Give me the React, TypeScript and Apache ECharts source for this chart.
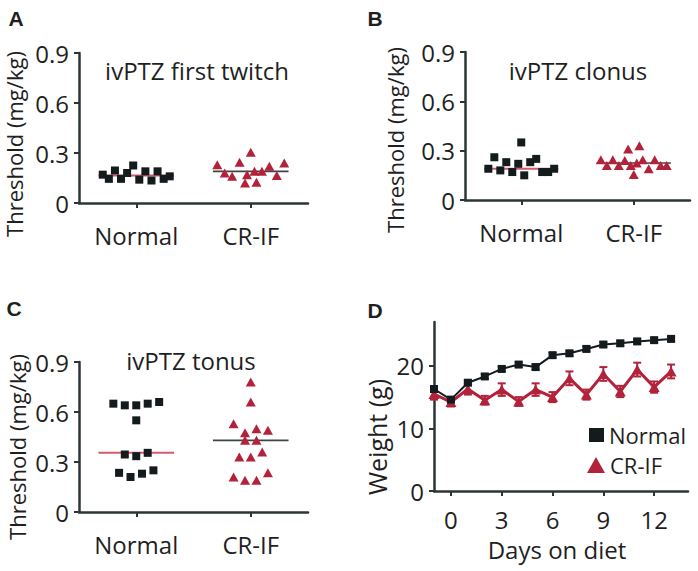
import React, { useEffect, useRef } from "react";
import * as echarts from "echarts";

// ---------- data ----------
const groups = ["Normal", "CR-IF"];
const thresholdTicks = [0, 0.3, 0.6, 0.9];

// Panel A: ivPTZ first twitch (values in left-to-right order)
const firstTwitchNormal = [0.17, 0.145, 0.195, 0.145, 0.18, 0.225, 0.14, 0.19, 0.135, 0.19, 0.145, 0.16];
const firstTwitchCRIF = [0.23, 0.18, 0.16, 0.245, 0.17, 0.305, 0.19, 0.12, 0.19, 0.125, 0.22, 0.165, 0.24];

// Panel B: ivPTZ clonus
const clonusNormal = [0.19, 0.26, 0.18, 0.23, 0.17, 0.22, 0.15, 0.35, 0.23, 0.25, 0.17, 0.17, 0.19];
const clonusCRIF = [0.245, 0.21, 0.245, 0.21, 0.24, 0.21, 0.31, 0.225, 0.155, 0.33, 0.245, 0.19, 0.245, 0.21, 0.21];

// Panel C: ivPTZ tonus
const tonusNormal = [0.65, 0.64, 0.64, 0.65, 0.66, 0.55, 0.345, 0.335, 0.355, 0.235, 0.21, 0.23, 0.25];
const tonusCRIF = [0.21, 0.33, 0.53, 0.475, 0.78, 0.66, 0.5, 0.43, 0.33, 0.19, 0.43, 0.36, 0.19, 0.49, 0.235];

// Panel D: weight over days on diet
const days = [-1, 0, 1, 2, 3, 4, 5, 6, 7, 8, 9, 10, 11, 12, 13];
const weightNormal = [16.3, 14.6, 17.3, 18.3, 19.5, 20.2, 19.8, 21.7, 22.0, 22.7, 23.4, 23.6, 23.9, 24.1, 24.3];
const weightNormalErr = [0.4, 0.4, 0.4, 0.4, 0.4, 0.4, 0.4, 0.4, 0.4, 0.4, 0.4, 0.4, 0.4, 0.4, 0.4];
const weightCRIF = [15.5, 14.2, 16.3, 14.5, 16.2, 14.3, 16.2, 15.0, 18.0, 15.4, 18.7, 15.9, 19.4, 16.6, 19.1];
const weightCRIFErr = [0.9, 0.7, 0.9, 0.7, 1.0, 0.7, 1.0, 0.8, 1.1, 0.8, 1.1, 0.9, 1.1, 0.9, 1.1];
const dayTicks = [0, 3, 6, 9, 12];
const weightTicks = [0, 10, 20];

// ---------- helpers ----------
const BLACK = "#141b1d";
const RED = "#b3223b";
const AXIS = "#2c3636";
const TEXT = "#1f1f1f";
const FONT = "Open Sans";

function median(v: number[]) {
  const s = [...v].sort((a, b) => a - b);
  const n = s.length;
  return n % 2 ? s[(n - 1) / 2] : (s[n / 2 - 1] + s[n / 2]) / 2;
}

// Prism-like column scatter: values with close neighbours share a row and are
// spread horizontally around the group centre.
function spread(values: number[], center: number) {
  const tol = 0.031;
  const maxStep = 0.1;
  const maxWidth = 0.585;
  const idx = values.map((_, i) => i).sort((a, b) => values[a] - values[b]);
  const rows: number[][] = [];
  let cur: number[] = [idx[0]];
  for (let k = 1; k < idx.length; k++) {
    if (values[idx[k]] - values[idx[k - 1]] > tol) {
      rows.push(cur);
      cur = [];
    }
    cur.push(idx[k]);
  }
  rows.push(cur);
  const pts: number[][] = [];
  rows.forEach((row) => {
    row.sort((a, b) => a - b);
    const n = row.length;
    const step = n > 1 ? Math.min(maxStep, maxWidth / (n - 1)) : 0;
    row.forEach((i, j) => pts.push([center + (j - (n - 1) / 2) * step, values[i]]));
  });
  return pts;
}

const axisLineStyle = { show: true, onZero: false, lineStyle: { color: AXIS, width: 2.5 } };
const tickStyle = { show: true, length: 5, lineStyle: { color: AXIS, width: 2 } };
const labelFont = { color: TEXT, fontFamily: FONT, fontSize: 24, lineHeight: 22 };

export default function App() {
  const ref = useRef<HTMLDivElement>(null);

  useEffect(() => {
    if (!ref.current) return;
    const chart = echarts.init(ref.current, null, { renderer: "svg" });

    const grids = [
      { left: 79, top: 53, width: 229, height: 150 },
      { left: 465, top: 52, width: 225, height: 148 },
      { left: 79, top: 362, width: 229, height: 150 },
      { left: 434, top: 322, width: 254, height: 169 },
    ].map((g) => ({ ...g, containLabel: false, outerBoundsMode: "none" }));

    const scatterPanels = [
      [firstTwitchNormal, firstTwitchCRIF],
      [clonusNormal, clonusCRIF],
      [tonusNormal, tonusCRIF],
    ];

    const xAxes: any[] = [0, 1, 2].map((i) => ({
      type: "value",
      gridIndex: i,
      min: -0.5,
      max: 1.5,
      axisLine: axisLineStyle,
      axisTick: { ...tickStyle, customValues: [0, 1] },
      axisLabel: {
        ...labelFont,
        margin: 21,
        customValues: [0, 1],
        formatter: (v: number) => groups[Math.round(v)] ?? "",
      },
      splitLine: { show: false },
    }));
    xAxes.push({
      type: "value",
      gridIndex: 3,
      min: -1,
      max: 14,
      axisLine: axisLineStyle,
      axisTick: { ...tickStyle, customValues: dayTicks },
      axisLabel: { ...labelFont, margin: 17, customValues: dayTicks },
      splitLine: { show: false },
    });

    const yAxes: any[] = [0, 1, 2].map((i) => ({
      type: "value",
      gridIndex: i,
      min: 0,
      max: 0.9,
      interval: 0.3,
      axisLine: axisLineStyle,
      axisTick: { ...tickStyle, customValues: thresholdTicks },
      axisLabel: { ...labelFont, margin: 10, customValues: thresholdTicks },
      splitLine: { show: false },
    }));
    yAxes.push({
      type: "value",
      gridIndex: 3,
      min: 0,
      max: 27,
      axisLine: axisLineStyle,
      axisTick: { ...tickStyle, customValues: weightTicks },
      axisLabel: { ...labelFont, margin: 10, customValues: weightTicks },
      splitLine: { show: false },
    });

    const series: any[] = [];
    scatterPanels.forEach((panel, p) => {
      panel.forEach((vals, g) => {
        const m = median(vals);
        series.push({
          type: "line",
          xAxisIndex: p,
          yAxisIndex: p,
          data: [
            [g - 0.33, m],
            [g + 0.33, m],
          ],
          showSymbol: false,
          symbol: "none",
          silent: true,
          z: 1,
          lineStyle: g === 0 ? { color: "#d65a69", width: 2 } : { color: "#3c4646", width: 1.6 },
        });
        series.push({
          type: "scatter",
          xAxisIndex: p,
          yAxisIndex: p,
          data: spread(vals, g),
          symbol: g === 0 ? "rect" : "triangle",
          symbolSize: g === 0 ? 8 : [10, 9],
          itemStyle: { color: g === 0 ? BLACK : RED, opacity: 1 },
          silent: true,
          z: 3,
        });
      });
    });

    const errSeries = (vals: number[], errs: number[], color: string, lw: number) => ({
      type: "custom",
      xAxisIndex: 3,
      yAxisIndex: 3,
      silent: true,
      z: 1,
      encode: { x: 0, y: 1 },
      data: days.map((d, i) => [d, vals[i], errs[i]]),
      renderItem: (params: any, api: any) => {
        const x = api.value(0);
        const y = api.value(1);
        const e = api.value(2);
        const top = api.coord([x, y + e]);
        const bot = api.coord([x, y - e]);
        const w = 4;
        const style = { stroke: color, lineWidth: lw };
        return {
          type: "group",
          children: [
            { type: "line", shape: { x1: top[0], y1: top[1], x2: bot[0], y2: bot[1] }, style },
            { type: "line", shape: { x1: top[0] - w, y1: top[1], x2: top[0] + w, y2: top[1] }, style },
            { type: "line", shape: { x1: bot[0] - w, y1: bot[1], x2: bot[0] + w, y2: bot[1] }, style },
          ],
        };
      },
    });

    series.push(errSeries(weightNormal, weightNormalErr, BLACK, 1.5));
    series.push(errSeries(weightCRIF, weightCRIFErr, RED, 2));
    series.push({
      name: "Normal",
      type: "line",
      xAxisIndex: 3,
      yAxisIndex: 3,
      data: days.map((d, i) => [d, weightNormal[i]]),
      symbol: "rect",
      symbolSize: 8,
      lineStyle: { color: BLACK, width: 2 },
      itemStyle: { color: BLACK },
      z: 4,
    });
    series.push({
      name: "CR-IF",
      type: "line",
      xAxisIndex: 3,
      yAxisIndex: 3,
      data: days.map((d, i) => [d, weightCRIF[i]]),
      symbol: "triangle",
      symbolSize: [11, 10],
      lineStyle: { color: RED, width: 3 },
      itemStyle: { color: RED },
      z: 3,
    });

    const legendText = { color: TEXT, fontFamily: FONT, fontSize: 22, lineHeight: 18 };
    const text = (t: string, x: number, y: number, size: number, opts: any = {}) => ({
      type: "text",
      x,
      y,
      rotation: opts.rotation ?? 0,
      silent: true,
      style: {
        text: t,
        fill: TEXT,
        fontFamily: opts.family ?? FONT,
        fontSize: size,
        fontWeight: opts.weight ?? "normal",
        lineHeight: Math.round(size * 0.9),
        align: "center",
        verticalAlign: "middle",
      },
    });

    chart.setOption({
      animation: false,
      backgroundColor: "#ffffff",
      grid: grids,
      xAxis: xAxes,
      yAxis: yAxes,
      legend: [
        {
          data: [{ name: "Normal", icon: "rect" }],
          left: 589,
          top: 424,
          padding: 0,
          itemWidth: 15,
          itemHeight: 14,
          selectedMode: false,
          textStyle: legendText,
        },
        {
          data: [{ name: "CR-IF", icon: "triangle" }],
          left: 587,
          top: 454,
          padding: 0,
          itemWidth: 18,
          itemHeight: 16,
          selectedMode: false,
          textStyle: legendText,
        },
      ],
      graphic: [
        text("A", 16, 18, 21, { family: "Liberation Sans", weight: "bold" }),
        text("B", 375, 18, 21, { family: "Liberation Sans", weight: "bold" }),
        text("C", 14, 308, 21, { family: "Liberation Sans", weight: "bold" }),
        text("D", 375, 310, 21, { family: "Liberation Sans", weight: "bold" }),
        text("ivPTZ first twitch", 197, 70, 24),
        text("ivPTZ clonus", 578, 70, 24),
        text("ivPTZ tonus", 191, 360, 24),
        text("Threshold (mg/kg)", 14, 144, 22, { rotation: Math.PI / 2 }),
        text("Threshold (mg/kg)", 395, 140, 22, { rotation: Math.PI / 2 }),
        text("Threshold (mg/kg)", 17, 447, 22, { rotation: Math.PI / 2 }),
        text("Weight (g)", 377, 437, 25, { rotation: Math.PI / 2 }),
        text("Days on diet", 557, 549, 24),
      ],
      series,
    });

    return () => chart.dispose();
  }, []);

  return (
    <div
      ref={ref}
      style={{ position: "absolute", left: 0, top: 0, width: 698, height: 571, background: "#fff" }}
    />
  );
}
